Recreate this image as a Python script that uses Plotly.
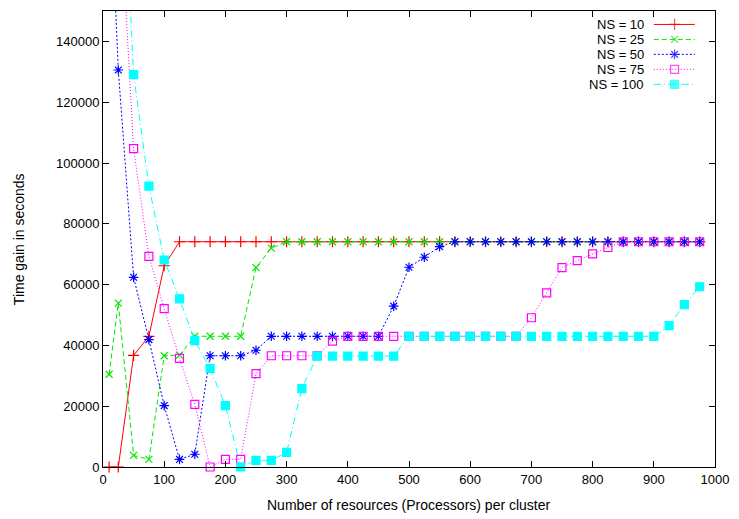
import plotly.graph_objects as go

# Data
resources = [10, 25, 50, 75, 100, 125, 150, 175, 200, 225, 250, 275, 300, 325, 350,
             375, 400, 425, 450, 475, 500, 525, 550, 575, 600, 625, 650, 675, 700,
             725, 750, 775, 800, 825, 850, 875, 900, 925, 950, 975]

ns10 = [0, 0, 36700, 43000, 66200, 74100, 74100, 74100, 74100, 74100, 74100, 74100,
        74100, 74100, 74100, 74100, 74100, 74100, 74100, 74100, 74100, 74100, 74100,
        74100, 74100, 74100, 74100, 74100, 74100, 74100, 74100, 74100, 74100, 74100,
        74100, 74100, 74100, 74100, 74100, 74100]

ns25 = [30500, 53900, 3800, 2500, 36600, 36800, 43000, 43000, 43000, 43000, 65600,
        72000, 74100, 74100, 74100, 74100, 74100, 74100, 74100, 74100, 74100, 74100,
        74100, 74100, 74100, 74100, 74100, 74100, 74100, 74100, 74100, 74100, 74100,
        74100, 74100, 74100, 74100, 74100, 74100, 74100]

ns50 = [200000, 130600, 62400, 41900, 20200, 2500, 4200, 36600, 36600, 36600, 38400,
        43000, 43000, 43000, 43000, 43000, 43000, 43000, 43000, 52900, 65700, 69000,
        72500, 74100, 74100, 74100, 74100, 74100, 74100, 74100, 74100, 74100, 74100,
        74100, 74100, 74100, 74100, 74100, 74100, 74100]

ns75 = [260000, 196000, 104700, 69300, 52100, 35700, 20600, 0, 2500, 2500, 30700,
        36600, 36600, 36600, 36600, 41400, 43000, 43000, 43000, 43000, 43000, 43000,
        43000, 43000, 43000, 43000, 43000, 43000, 49100, 57300, 65600, 67900, 70100,
        72200, 74100, 74100, 74100, 74100, 74100, 74100]

ns100 = [300000, 236000, 129100, 92400, 68100, 55300, 41600, 32400, 20200, 0, 2200,
         2200, 4800, 25800, 36500, 36500, 36500, 36500, 36500, 36500, 43000, 43000,
         43000, 43000, 43000, 43000, 43000, 43000, 43000, 43000, 43000, 43000, 43000,
         43000, 43000, 43000, 43000, 46500, 53400, 59300]

series_names = ["NS = 10", "NS = 25", "NS = 50", "NS = 75", "NS = 100"]
series_values = [ns10, ns25, ns50, ns75, ns100]

x_ticks = [0, 100, 200, 300, 400, 500, 600, 700, 800, 900, 1000]
y_ticks = [0, 20000, 40000, 60000, 80000, 100000, 120000, 140000]

# Styles
colors = ["#ff0000", "#00e600", "#0000ff", "#ff00ff", "#00ffff"]
symbols = ["cross-thin-open", "x-thin-open", "asterisk-open", "square-open", "square"]
sizes = [8, 7, 8, 8, 8]
dashes = ["solid", "5px,3px", "2px,2px", "1px,2px", "7px,3px,1px,3px"]

FONT = "Liberation Sans, Arial, Helvetica, sans-serif"

fig = go.Figure()

for name, vals, c, s, sz, d in zip(series_names, series_values, colors, symbols, sizes, dashes):
    fig.add_trace(go.Scatter(
        x=resources, y=vals, name=name, mode="lines+markers",
        line=dict(color=c, width=1, dash=d),
        marker=dict(symbol=s, size=sz, color=c, line=dict(color=c, width=1.2)),
        cliponaxis=False, showlegend=False,
    ))

# Gnuplot-style key (text on the left, sample on the right) on an overlay axis
key_y = [0.9705, 0.9377, 0.9049, 0.8721, 0.8393]
key_x_text = 0.885
key_x_line = [0.900, 0.934, 0.967]
annotations = []
for name, ky, c, s, sz, d in zip(series_names, key_y, colors, symbols, sizes, dashes):
    fig.add_trace(go.Scatter(
        x=key_x_line, y=[ky, ky, ky], xaxis="x2", yaxis="y2", mode="lines+markers",
        line=dict(color=c, width=1, dash=d),
        marker=dict(symbol=s, size=[0, sz, 0], color=c, line=dict(color=c, width=1.2)),
        showlegend=False, hoverinfo="skip", cliponaxis=False,
    ))
    annotations.append(dict(
        x=key_x_text, y=ky, xref="x2", yref="y2", text=name, showarrow=False,
        xanchor="right", yanchor="middle", borderpad=0,
        font=dict(family=FONT, size=13, color="#000000"),
    ))

annotations.append(dict(
    x=0.5, y=-0.083, xref="paper", yref="paper",
    text="Number of resources (Processors) per cluster", showarrow=False,
    xanchor="center", yanchor="middle", font=dict(family=FONT, size=14, color="#000000"),
))
annotations.append(dict(
    x=-0.137, y=0.5, xref="paper", yref="paper", text="Time gain in seconds",
    showarrow=False, textangle=-90, xanchor="center", yanchor="middle",
    font=dict(family=FONT, size=14, color="#000000"),
))

axis_common = dict(
    showgrid=False, zeroline=False, showline=True, linecolor="#000000", linewidth=1,
    mirror="allticks", ticks="inside", ticklen=6, tickcolor="#000000", tickwidth=1,
    tickfont=dict(family=FONT, size=13, color="#000000"),
)

fig.update_layout(
    width=739, height=519,
    margin=dict(l=103, r=17, t=10, b=52),
    paper_bgcolor="white", plot_bgcolor="white",
    xaxis=dict(range=[0, 1000], tickvals=x_ticks, ticktext=[str(v) for v in x_ticks], **axis_common),
    yaxis=dict(range=[0, 150000], tickvals=y_ticks, ticktext=[str(v) for v in y_ticks], **axis_common),
    xaxis2=dict(overlaying="x", range=[0, 1], visible=False, anchor="y2"),
    yaxis2=dict(overlaying="y", range=[0, 1], visible=False, anchor="x2"),
    annotations=annotations,
    showlegend=False,
)

fig.write_html("out.html", config={"displayModeBar": False},
               post_script="document.body.style.margin='0';")
